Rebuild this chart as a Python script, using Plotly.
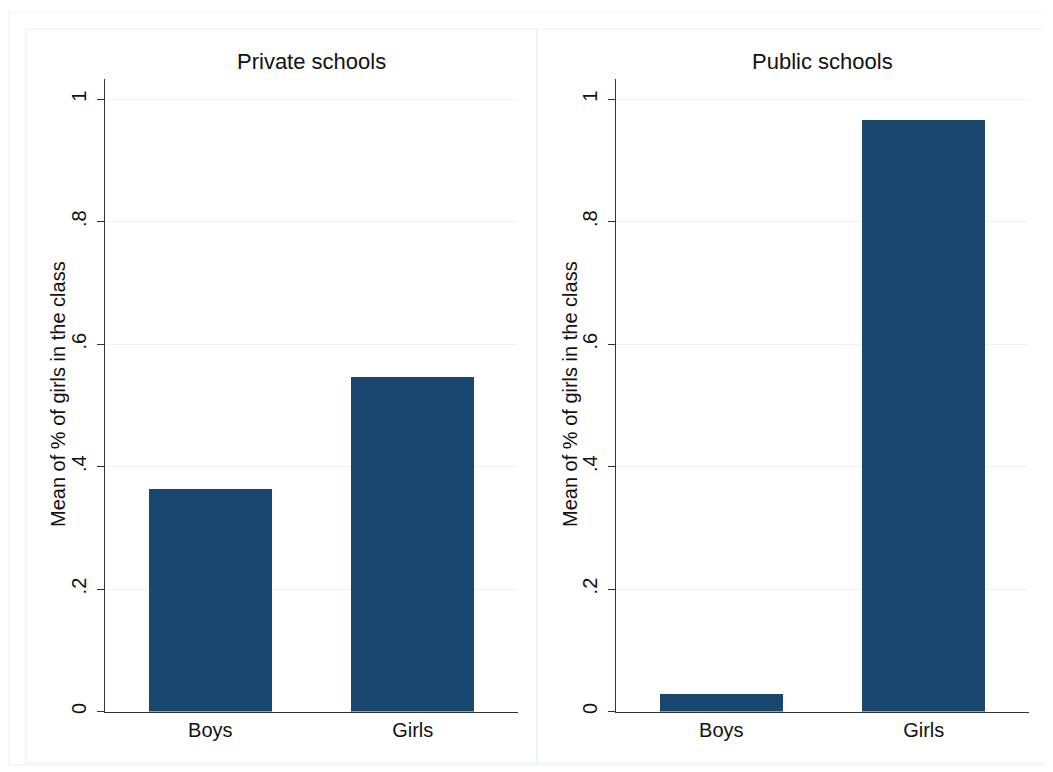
import plotly.graph_objects as go

categories = ["Boys", "Girls"]
private_values = [0.363, 0.546]
public_values = [0.028, 0.966]
panel_titles = ["Private schools", "Public schools"]
tick_vals = [0, 0.2, 0.4, 0.6, 0.8, 1]
tick_text = ["0", ".2", ".4", ".6", ".8", "1"]
y_title = "Mean of % of girls in the class"

OFF = 8  # page body margin offset
W, H = 1053 - OFF, 772 - OFF
BAR = "#1a476f"
GRID = "#eaf2f3"
FONT = "Liberation Sans, Arial, Helvetica, sans-serif"

def px(x):
    return (x - OFF) / W

def py(y):
    return 1 - (y - OFF) / H

fig = go.Figure()
fig.add_trace(go.Bar(x=[0, 1], y=private_values, width=0.607, marker=dict(color=BAR, line=dict(width=0)),
                     xaxis="x", yaxis="y", showlegend=False))
fig.add_trace(go.Bar(x=[0, 1], y=public_values, width=0.607, marker=dict(color=BAR, line=dict(width=0)),
                     xaxis="x2", yaxis="y2", showlegend=False))

xcommon = dict(range=[-0.52, 1.52], tickvals=[0, 1], ticktext=categories, showline=True,
               linecolor="#333333", linewidth=1.2, ticks="", showgrid=False, zeroline=False,
               tickfont=dict(size=20, color="#111111", family=FONT), fixedrange=True)
ycommon = dict(range=[0, 1.033], tickvals=tick_vals, ticktext=tick_text, tickangle=-90,
               showline=True, linecolor="#333333", linewidth=1.2, ticks="outside", ticklen=7,
               tickcolor="#333333", tickwidth=1.2, showgrid=True, gridcolor=GRID, gridwidth=1,
               zeroline=False, tickfont=dict(size=20, color="#111111", family=FONT),
               ticklabelstandoff=3, fixedrange=True)

ybot, ytop = py(711.5), py(79)
fig.update_layout(
    width=W, height=H, margin=dict(l=0, r=0, t=0, b=0, autoexpand=False),
    paper_bgcolor="white", plot_bgcolor="white", bargap=0,
    xaxis=dict(domain=[px(105), px(518)], anchor="y", **xcommon),
    yaxis=dict(domain=[ybot, ytop], anchor="x", **ycommon),
    xaxis2=dict(domain=[px(616), px(1029)], anchor="y2", **xcommon),
    yaxis2=dict(domain=[ybot, ytop], anchor="x2", **ycommon),
    font=dict(family=FONT),
)

shapes = [
    dict(type="rect", xref="paper", yref="paper", x0=px(9), x1=px(1050), y0=py(765), y1=py(12),
         line=dict(color=GRID, width=1.2)),
    dict(type="rect", xref="paper", yref="paper", x0=px(26), x1=px(537), y0=py(763), y1=py(29),
         line=dict(color=GRID, width=1.2)),
    dict(type="rect", xref="paper", yref="paper", x0=px(537), x1=px(1046), y0=py(763), y1=py(29),
         line=dict(color=GRID, width=1.2)),
]
fig.update_layout(shapes=shapes)

for title, cx in zip(panel_titles, [311, 822]):
    fig.add_annotation(text=title, x=px(cx), y=py(62), xref="paper", yref="paper",
                       showarrow=False, xanchor="center", yanchor="middle",
                       font=dict(size=22, color="#111111", family=FONT))

for cx in [58, 570]:
    fig.add_annotation(text=y_title, x=px(cx), y=py(394), xref="paper", yref="paper",
                       showarrow=False, xanchor="center", yanchor="middle", textangle=-90,
                       font=dict(size=20, color="#111111", family=FONT))

fig.write_html("out.html")
